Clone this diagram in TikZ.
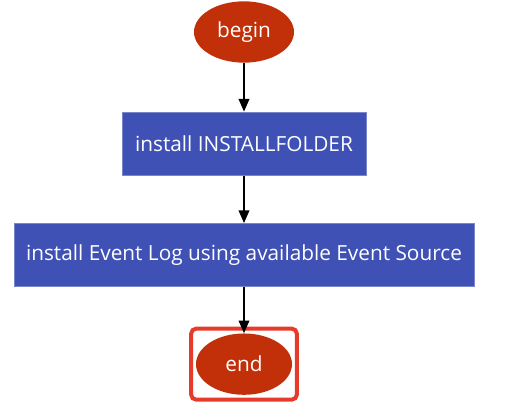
\documentclass[tikz,border=0pt]{standalone}
\usepackage{fontspec}
\setmainfont{Open Sans}
\usepackage{xcolor}
\usetikzlibrary{arrows.meta,positioning,shapes.geometric,fit}

\definecolor{termred}{HTML}{C2300A}
\definecolor{stepblue}{HTML}{3F51B5}
\definecolor{stepedge}{HTML}{7986CB}
\definecolor{hlred}{HTML}{E63B2B}

\begin{document}
\begin{tikzpicture}[
    >={Triangle[length=9.5pt,width=8pt]},
    term/.style={ellipse, fill=termred, text=white, font=\fontsize{15.6}{18}\selectfont,
                 minimum width=75pt, minimum height=46pt, inner sep=0pt},
    stepbox/.style={draw=stepedge, line width=0.6pt, fill=stepblue, text=white,
                    font=\fontsize{15.6}{18}\selectfont, minimum height=47.5pt, inner sep=0pt},
    arr/.style={->, line width=1.1pt, color=black},
  ]
  \useasboundingbox (-183pt,24pt) rectangle (196.5pt,-283.5pt);

  % start
  \node[term] (begin) at (0,0) {begin};

  % steps
  \node[stepbox, minimum width=183pt, below=36.5pt of begin] (folder)
    {install INSTALLFOLDER};
  \node[stepbox, minimum width=345pt, below=35.5pt of folder] (eventlog)
    {install Event Log using available Event Source};

  % finish
  \node[term, minimum width=72pt, below=34.5pt of eventlog] (end) {end};
  \node[draw=hlred, line width=3pt, rounded corners=4pt, inner sep=3.5pt,
        fit=(end)] (hl) {};

  \draw[arr] (begin) -- (folder);
  \draw[arr] (folder) -- (eventlog);
  \draw[arr] (eventlog) -- (end);
\end{tikzpicture}
\end{document}
